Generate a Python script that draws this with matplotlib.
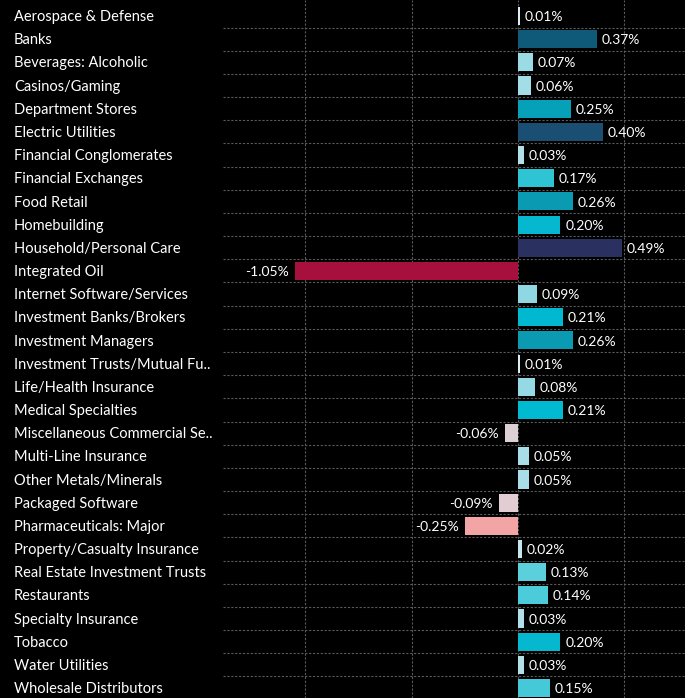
import matplotlib.pyplot as plt
from matplotlib.transforms import blended_transform_factory

plt.rcParams['font.family'] = ['Lato', 'DejaVu Sans']

categories = [
    "Aerospace & Defense", "Banks", "Beverages: Alcoholic", "Casinos/Gaming",
    "Department Stores", "Electric Utilities", "Financial Conglomerates",
    "Financial Exchanges", "Food Retail", "Homebuilding",
    "Household/Personal Care", "Integrated Oil", "Internet Software/Services",
    "Investment Banks/Brokers", "Investment Managers",
    "Investment Trusts/Mutual Fu..", "Life/Health Insurance",
    "Medical Specialties", "Miscellaneous Commercial Se..",
    "Multi-Line Insurance", "Other Metals/Minerals", "Packaged Software",
    "Pharmaceuticals: Major", "Property/Casualty Insurance",
    "Real Estate Investment Trusts", "Restaurants", "Specialty Insurance",
    "Tobacco", "Water Utilities", "Wholesale Distributors",
]
values = [0.01, 0.37, 0.07, 0.06, 0.25, 0.40, 0.03, 0.17, 0.26, 0.20,
          0.49, -1.05, 0.09, 0.21, 0.26, 0.01, 0.08, 0.21, -0.06, 0.05,
          0.05, -0.09, -0.25, 0.02, 0.13, 0.14, 0.03, 0.20, 0.03, 0.15]
colors = ["#dbeef3", "#0f5a79", "#9bdbe6", "#a3dde7", "#06a0b8", "#1a4f73",
          "#b3dfe8", "#2ec4d4", "#0a9bb3", "#05b8cf", "#2a3160", "#a70f3c",
          "#8ed7e3", "#00b8cf", "#0a9bb3", "#dbeef3", "#95d9e4", "#00bad1",
          "#ddd0d4", "#a9dde7", "#a9dde7", "#e2cdd2", "#f2a5a4", "#c5e6ec",
          "#5ccfdd", "#4ccbdb", "#b3dfe8", "#05b8cf", "#b3dfe8", "#45c8d8"]

fig = plt.figure(figsize=(6.85, 6.98), dpi=100, facecolor='black')
ax = fig.add_axes([223 / 685, 0, 462 / 685, 1])
ax.set_facecolor('black')

y = list(range(len(categories)))
ax.barh(y, values, height=0.78, color=colors)

ax.set_xlim(-1.388, 0.786)
ax.set_ylim(29.43, -0.69)

# grid
ax.set_xticks([-1.0, -0.5, 0.0, 0.5])
ax.set_yticks([i + 0.5 for i in range(len(categories) - 1)])
ax.grid(True, color='#5a5a5a', linestyle=(0, (2, 1.5)), linewidth=0.8)
ax.tick_params(left=False, bottom=False, labelleft=False, labelbottom=False)
for s in ax.spines.values():
    s.set_visible(False)
ax.set_axisbelow(True)

# value labels
for i, v in enumerate(values):
    if v >= 0:
        ax.text(v + 0.022, i + 0.05, f"{v:.2f}%", color='white', fontsize=10,
                va='center', ha='left')
    else:
        ax.text(v - 0.03, i + 0.05, f"{v:.2f}%", color='white', fontsize=10,
                va='center', ha='right')

# category labels
trans = blended_transform_factory(fig.transFigure, ax.transData)
for i, c in enumerate(categories):
    ax.text(14 / 685, i + 0.05, c, transform=trans, color='white',
            fontsize=10.5, va='center', ha='left', clip_on=False)

fig.savefig('out.png', dpi=100, facecolor='black')
